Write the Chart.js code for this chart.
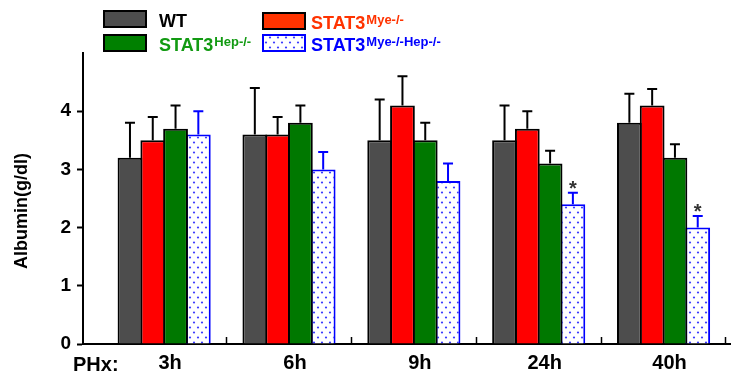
<!DOCTYPE html>
<html lang="en">
<head>
<meta charset="UTF-8">
<title>Albumin after PHx</title>
<script src="https://cdn.jsdelivr.net/npm/chart.js"></script>
<style>
  body { margin: 0; background: #fff; }
  .chart-box { width: 740px; height: 378px; position: relative; }
</style>
</head>
<body>
<div class="chart-box"><canvas id="albuminChart"></canvas></div>
<script>
// values (g/dl), mean + upper SD
const timePoints = ['3h', '6h', '9h', '24h', '40h'];
const yTicks = [0, 1, 2, 3, 4];

const wtMean  = [3.2, 3.6, 3.5, 3.5, 3.8];
const wtErr   = [0.6, 0.8, 0.7, 0.6, 0.5];
const myeMean = [3.5, 3.6, 4.1, 3.7, 4.1];
const myeErr  = [0.4, 0.3, 0.5, 0.3, 0.28];
const hepMean = [3.7, 3.8, 3.5, 3.1, 3.2];
const hepErr  = [0.4, 0.3, 0.3, 0.22, 0.23];
const dkoMean = [3.6, 3.0, 2.8, 2.4, 2.0];
const dkoErr  = [0.4, 0.3, 0.3, 0.2, 0.2];
const dkoStar = [false, false, false, true, true];

const seriesNames = ['WT', 'STAT3', 'STAT3', 'STAT3'];
const seriesSup   = ['', 'Mye-/-', 'Hep-/-', 'Mye-/-Hep-/-'];

const FONT = "'Liberation Sans', Arial, sans-serif";

// dotted fill for the double knockout
function dotPattern() {
    const c = document.createElement('canvas');
    c.width = 8; c.height = 10;
    const g = c.getContext('2d');
    g.fillStyle = '#fff';
    g.fillRect(0, 0, 8, 10);
    g.fillStyle = '#3c3cff';
    g.beginPath(); g.arc(2, 2.5, 1.1, 0, Math.PI * 2); g.fill();
    g.beginPath(); g.arc(6, 7.5, 1.1, 0, Math.PI * 2); g.fill();
    return g.createPattern(c, 'repeat');
}

const ctx = document.getElementById('albuminChart').getContext('2d');
const dots = dotPattern();

const barFill     = ['#4d4d4d', '#ff0000', '#007800', dots];
const barBorder   = ['#000', '#000', '#000', '#0000ff'];
const legendFill  = ['#4d4d4d', '#ff3300', '#008000', dots];
const legendText  = ['#000', '#ff3300', '#129a12', '#0000ff'];
const means = [wtMean, myeMean, hepMean, dkoMean];
const errs  = [wtErr, myeErr, hepErr, dkoErr];

// the tick list holds group centres and group edges (half a unit apart),
// so the bar ruler sees half the group spacing: hence the doubled percentage
const datasets = means.map((m, d) => ({
    label: seriesNames[d] + seriesSup[d],
    data: m.map((v, i) => ({ x: i, y: v })),
    backgroundColor: barFill[d],
    borderColor: barBorder[d],
    borderWidth: 2,
    barPercentage: 25 / 23,
    categoryPercentage: 1.46,
}));

// error bars, asterisks, legend and loose labels
const extras = {
    id: 'extras',
    afterDatasetsDraw(chart) {
        const c = chart.ctx;
        const y = chart.scales.y;
        c.save();
        means.forEach((m, d) => {
            const meta = chart.getDatasetMeta(d);
            c.strokeStyle = d === 3 ? '#0000ff' : '#000';
            c.lineWidth = 2;
            meta.data.forEach((bar, i) => {
                const top = y.getPixelForValue(m[i]);
                const end = y.getPixelForValue(m[i] + errs[d][i]);
                c.beginPath();
                c.moveTo(bar.x, top);
                c.lineTo(bar.x, end);
                c.moveTo(bar.x - 5, end);
                c.lineTo(bar.x + 5, end);
                c.stroke();
                if (d === 3 && dkoStar[i]) {
                    c.fillStyle = '#333';
                    c.font = 'bold 20px ' + FONT;
                    c.textAlign = 'center';
                    c.textBaseline = 'alphabetic';
                    c.fillText('*', bar.x, end + 2);
                }
            });
        });

        // legend, 2 x 2
        const colX = [104, 263], rowY = [11, 35], textX = [159, 311];
        seriesNames.forEach((name, d) => {
            const col = d % 2, row = Math.floor(d / 2);
            const sx = colX[col], sy = rowY[row] + (d === 1 ? 2 : 0);
            c.fillStyle = legendFill[d];
            c.fillRect(sx, sy, 42, 16);
            c.strokeStyle = barBorder[d];
            c.lineWidth = 2;
            c.strokeRect(sx, sy, 42, 16);
            const base = sy + 16;
            c.fillStyle = legendText[d];
            c.textAlign = 'left';
            c.textBaseline = 'alphabetic';
            c.font = 'bold 18px ' + FONT;
            c.fillText(name, textX[col], base);
            const w = c.measureText(name).width;
            c.font = 'bold 13px ' + FONT;
            c.fillText(seriesSup[d], textX[col] + w + 1, base - 5);
        });

        c.fillStyle = '#000';
        c.font = 'bold 20px ' + FONT;
        c.textAlign = 'left';
        c.fillText('PHx:', 73, 371);

        c.translate(22, 211);
        c.rotate(-Math.PI / 2);
        c.textAlign = 'center';
        c.textBaseline = 'middle';
        c.font = 'bold 18px ' + FONT;
        c.fillText('Albumin(g/dl)', 0, 0);
        c.restore();
    }
};

new Chart(ctx, {
    type: 'bar',
    data: { datasets: datasets },
    options: {
        responsive: true,
        maintainAspectRatio: false,
        animation: false,
        layout: { padding: { top: 53, right: 3, left: 0, bottom: 0 } },
        plugins: {
            legend: { display: false },
            tooltip: { enabled: false },
        },
        scales: {
            x: {
                type: 'linear',
                min: -0.65,
                max: 4.54,
                offset: false,
                afterBuildTicks: scale => {
                    const t = [];
                    timePoints.forEach((p, i) => {
                        t.push({ value: i });
                        t.push({ value: i + 0.5 });
                    });
                    scale.ticks = t;
                },
                afterFit: scale => { scale.height = 34; },
                grid: {
                    offset: false,
                    drawOnChartArea: false,
                    drawTicks: true,
                    tickLength: -7,
                    tickWidth: 1.5,
                    tickColor: c => Number.isInteger(c.tick.value) ? 'rgba(0,0,0,0)' : '#000',
                },
                border: { color: '#000', width: 2 },
                ticks: {
                    autoSkip: false,
                    maxRotation: 0,
                    padding: 14,
                    labelOffset: 6,
                    color: '#000',
                    font: { family: FONT, size: 20, weight: 'bold' },
                    callback: v => Number.isInteger(v) ? timePoints[v] : '',
                },
            },
            y: {
                min: 0,
                max: 5,
                afterBuildTicks: scale => { scale.ticks = yTicks.map(v => ({ value: v })); },
                afterFit: scale => { scale.width = 83; },
                grid: {
                    drawOnChartArea: false,
                    drawTicks: true,
                    tickLength: 6,
                    tickWidth: 2,
                    tickColor: '#000',
                },
                border: { color: '#000', width: 2 },
                ticks: {
                    padding: 6,
                    color: '#000',
                    font: { family: FONT, size: 19, weight: 'bold' },
                },
            },
        },
    },
    plugins: [extras],
});
</script>
</body>
</html>
